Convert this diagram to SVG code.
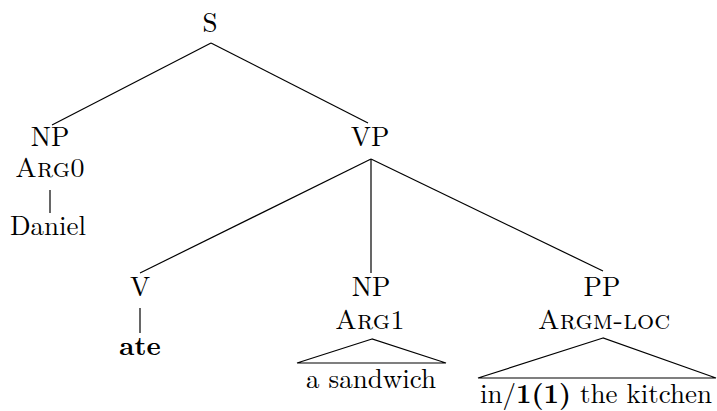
<svg xmlns="http://www.w3.org/2000/svg" width="717" height="411" viewBox="0 0 717 411">
<style>
text{fill:#000;text-anchor:middle}
.sc{font-family:'Latin Modern Roman Caps','Latin Modern Roman','Liberation Serif',serif}
.b{font-weight:bold}
.edge{stroke:#000;stroke-width:1.2;fill:none}
</style>
<rect width="717" height="411" fill="#fff"/>
<g id="connectors">
<line class="edge" x1="211" y1="43" x2="52" y2="125"/>
<line class="edge" x1="211" y1="43" x2="368" y2="123"/>
<line class="edge" x1="50" y1="190" x2="50" y2="213"/>
<line class="edge" x1="371" y1="159" x2="140" y2="273"/>
<line class="edge" x1="371" y1="159" x2="371" y2="273"/>
<line class="edge" x1="371" y1="159" x2="603" y2="271"/>
<line class="edge" x1="140" y1="308" x2="140" y2="333"/>
<polygon class="edge" points="372,339 297,363 446,363"/>
<polygon class="edge" points="603,338 478,378 716,378"/>
</g>
<g font-family="'Latin Modern Roman','Liberation Serif',serif" font-size="27">
<g id="S"><text x="210" y="32">S</text></g>
<g id="NP0"><text x="50" y="146">NP</text><text class="sc" x="50" y="177">Arg0</text></g>
<g id="Daniel"><text x="48" y="235">Daniel</text></g>
<g id="VP"><text x="370" y="146">VP</text></g>
<g id="V"><text x="140" y="296">V</text></g>
<g id="ate"><text class="b" x="140" y="355">ate</text></g>
<g id="NP1"><text x="371" y="296">NP</text><text class="sc" x="370" y="329">Arg1</text></g>
<g id="sandwich"><text x="371" y="388">a sandwich</text></g>
<g id="PP"><text x="602" y="296">PP</text><text class="sc" x="604" y="329">Argm-loc</text></g>
<g id="kitchen"><text x="596" y="403">in/<tspan class="b">1(1)</tspan> the kitchen</text></g>
</g>
</svg>
